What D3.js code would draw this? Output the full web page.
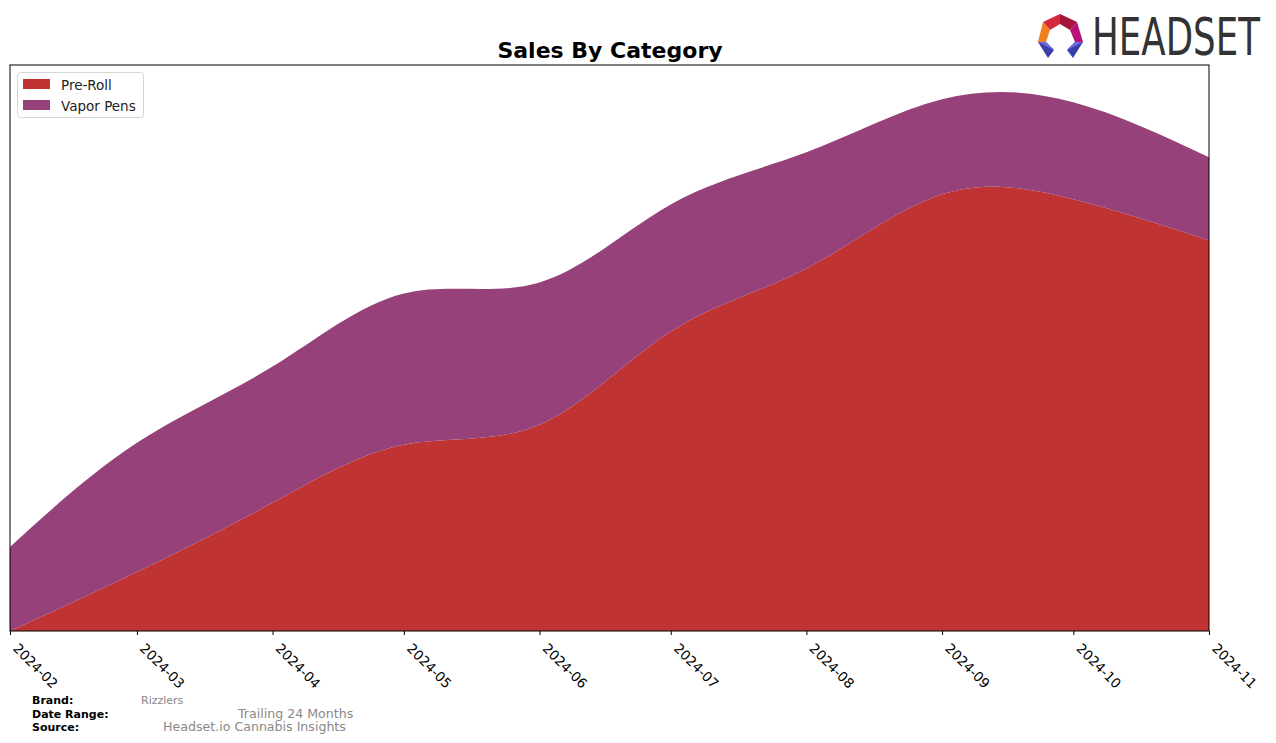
<!DOCTYPE html>
<html>
<head>
<meta charset="utf-8">
<script src="https://cdn.jsdelivr.net/npm/d3@7"></script>
<style>
  html, body { margin: 0; padding: 0; background: #fff; }
  svg { display: block; font-family: "DejaVu Sans", sans-serif; }
</style>
</head>
<body>
<svg id="chart" width="1276" height="743"></svg>
<script>
// ---- data ----
const months = ["2024-02","2024-03","2024-04","2024-05","2024-06","2024-07","2024-08","2024-09","2024-10","2024-11"];
const categories = ["Pre-Roll", "Vapor Pens"];
const preRoll   = [0, 59, 128, 186, 206, 299, 362, 436, 431, 390];
const vaporPens = [84, 129, 136, 151, 142, 127, 116, 95, 97, 83];
const colors = ["#c03333", "#96417a"];
const brandName = "Rizzlers";
const dateRange = "Trailing 24 Months";
const sourceName = "Headset.io Cannabis Insights";

(function () {
// ---- layout ----
const svg = d3.select("#chart");
const pL = 10, pR = 1209, pT = 65, pB = 631;
const parse = d3.utcParse("%Y-%m");
const rows = months.map((m, i) => ({ date: parse(m), "Pre-Roll": preRoll[i], "Vapor Pens": vaporPens[i] }));

const x = d3.scaleUtc().domain(d3.extent(rows, d => d.date)).range([pL, pR]);
const stacked = d3.stack().keys(categories)(rows);

// smoothed maximum for y-limit (5% headroom like matplotlib)
const topLine = d3.line().x(d => x(d.data.date)).y(d => d[1]).curve(d3.curveNatural);
const tmp = svg.append("path").attr("d", topLine(stacked[1])).attr("fill", "none");
const node = tmp.node(), L = node.getTotalLength();
let smax = 0;
for (let i = 0; i <= 400; i++) { smax = Math.max(smax, node.getPointAtLength(L * i / 400).y); }
tmp.remove();
const y = d3.scaleLinear().domain([0, smax * 1.05]).range([pB, pT]);

const area = d3.area()
  .x(d => x(d.data.date))
  .y0(d => y(d[0]))
  .y1(d => y(d[1]))
  .curve(d3.curveNatural);

svg.append("clipPath").attr("id", "clip")
  .append("rect").attr("x", pL).attr("y", pT).attr("width", pR - pL).attr("height", pB - pT);

svg.append("g").attr("clip-path", "url(#clip)")
  .selectAll("path").data(stacked).join("path")
  .attr("d", area)
  .attr("fill", (d, i) => colors[i])
  .attr("stroke", "none");

// frame
svg.append("rect").attr("x", pL).attr("y", pT).attr("width", pR - pL).attr("height", pB - pT)
  .attr("fill", "none").attr("stroke", "#000").attr("stroke-width", 1);

// x axis
const xAxis = d3.axisBottom(x).ticks(d3.utcMonth.every(1)).tickFormat(d3.utcFormat("%Y-%m")).tickSize(4).tickSizeOuter(0);
const gx = svg.append("g").attr("transform", `translate(0,${pB})`).call(xAxis);
gx.select(".domain").remove();
gx.selectAll(".tick line").attr("stroke", "#000");
gx.selectAll(".tick text")
  .attr("font-size", 13.5).attr("fill", "#000")
  .attr("font-family", "DejaVu Sans")
  .attr("text-anchor", "start")
  .attr("y", 0).attr("dy", "0.35em")
  .attr("transform", "translate(5,15) rotate(45)");

// title
svg.append("text").attr("x", 610).attr("y", 58).attr("text-anchor", "middle")
  .attr("font-size", 22).attr("font-weight", "bold").attr("fill", "#000").text("Sales By Category");

// legend
const lg = svg.append("g");
lg.append("rect").attr("x", 17.5).attr("y", 72.5).attr("width", 126).attr("height", 45).attr("rx", 3)
  .attr("fill", "#fff").attr("stroke", "#d6d6d6");
categories.forEach((c, i) => {
  lg.append("rect").attr("x", 23).attr("y", 79 + i * 21).attr("width", 27).attr("height", 10).attr("fill", colors[i]);
  lg.append("text").attr("x", 61).attr("y", 89.5 + i * 21).attr("font-size", 13.5).attr("fill", "#222").text(c);
});

// footer
const ft = svg.append("g");
ft.append("text").attr("x", 32).attr("y", 704).attr("font-size", 11).attr("font-weight", "bold").text("Brand:");
ft.append("text").attr("x", 32).attr("y", 718).attr("font-size", 11).attr("font-weight", "bold").text("Date Range:");
ft.append("text").attr("x", 32).attr("y", 731).attr("font-size", 11).attr("font-weight", "bold").text("Source:");
ft.append("text").attr("x", 141).attr("y", 704).attr("font-size", 11).attr("fill", "#888").text(brandName);
ft.append("text").attr("x", 238).attr("y", 718).attr("font-size", 12.6).attr("fill", "#888").text(dateRange);
ft.append("text").attr("x", 163).attr("y", 731).attr("font-size", 12.6).attr("fill", "#888").text(sourceName);

// logo
const logo = svg.append("g");
const facets = [
  { p: [[1043,22],[1060,14],[1060,24],[1050,30]], c: "#d42a3a" },
  { p: [[1060,14],[1077,22],[1070,30],[1060,24]], c: "#a5153a" },
  { p: [[1077,22],[1083,42],[1075,42],[1070,30]], c: "#b8127a" },
  { p: [[1043,22],[1050,30],[1046,42],[1038,42]], c: "#f08020" },
  { p: [[1038,42],[1046,42],[1054,50],[1048,58]], c: "#3a3fa8" },
  { p: [[1083,42],[1075,42],[1067,50],[1073,58]], c: "#3a3fa8" },
  { p: [[1038,42],[1046,42],[1054,50]], c: "#6a6ee0" },
  { p: [[1083,42],[1075,42],[1067,50]], c: "#6a6ee0" }
];
facets.forEach(f => logo.append("polygon").attr("points", f.p.map(q => q.join(",")).join(" ")).attr("fill", f.c));
const lt = logo.append("text").attr("x", 0).attr("y", 0).attr("font-size", 51).attr("fill", "#333")
  .attr("font-family", "DejaVu Sans").text("HEADSET");
const w = lt.node().getComputedTextLength();
lt.attr("transform", `translate(1092,55) scale(${168 / w},1)`);
})();
</script>
</body>
</html>
